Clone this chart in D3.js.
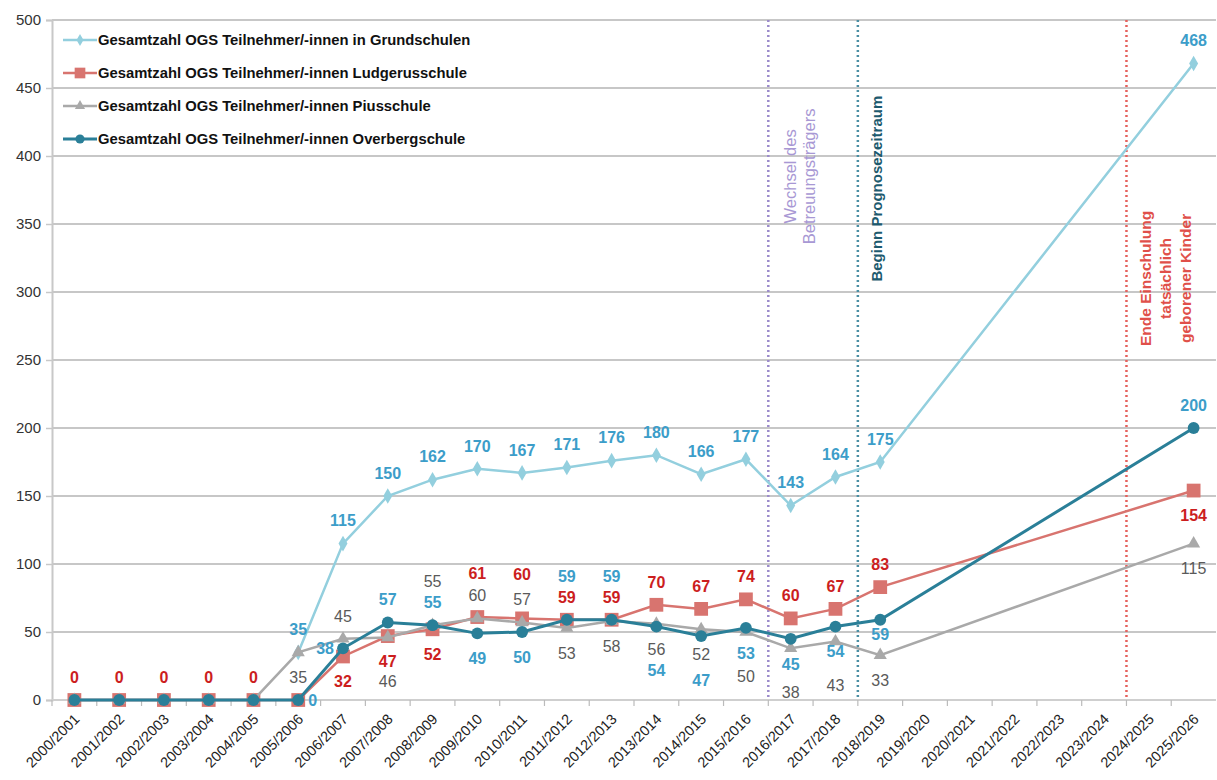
<!DOCTYPE html>
<html>
<head>
<meta charset="utf-8">
<script src="https://cdn.jsdelivr.net/npm/d3@7"></script>
<style>
    body { margin: 0; background: #fff; }
    #chart { width: 1217px; height: 780px; }
    text { font-family: "Liberation Sans", Arial, sans-serif; }
</style>
</head>
<body>
<div id="chart"></div>
<script>
// school years (x categories)
const years = ["2000/2001", "2001/2002", "2002/2003", "2003/2004", "2004/2005", "2005/2006",
    "2006/2007", "2007/2008", "2008/2009", "2009/2010", "2010/2011", "2011/2012", "2012/2013",
    "2013/2014", "2014/2015", "2015/2016", "2016/2017", "2017/2018", "2018/2019", "2019/2020",
    "2020/2021", "2021/2022", "2022/2023", "2023/2024", "2024/2025", "2025/2026"];

// values per series (null = no value, line is drawn across)
const grundschulen = [null, null, null, null, null, 35, 115, 150, 162, 170, 167, 171, 176, 180, 166, 177, 143, 164, 175, null, null, null, null, null, null, 468];
const ludgerus = [0, 0, 0, 0, 0, 0, 32, 47, 52, 61, 60, 59, 59, 70, 67, 74, 60, 67, 83, null, null, null, null, null, null, 154];
const pius = [0, 0, 0, 0, 0, 35, 45, 46, 55, 60, 57, 53, 58, 56, 52, 50, 38, 43, 33, null, null, null, null, null, null, 115];
const overberg = [0, 0, 0, 0, 0, 0, 38, 57, 55, 49, 50, 59, 59, 54, 47, 53, 45, 54, 59, null, null, null, null, null, null, 200];

// where the value label sits: a/A above, b/B below, s just below, l/r left/right, "" none
const grundLabelPos = ["", "", "", "", "", "a", "a", "a", "a", "a", "a", "a", "a", "a", "a", "a", "a", "a", "a", "", "", "", "", "", "", "a"];
const ludLabelPos = ["a", "a", "a", "a", "a", "", "b", "b", "b", "A", "A", "a", "a", "a", "a", "a", "a", "a", "a", "", "", "", "", "", "", "b"];
const piusLabelPos = ["", "", "", "", "", "b", "a", "B", "A", "a", "a", "b", "b", "b", "b", "B", "B", "B", "b", "", "", "", "", "", "", "b"];
const overLabelPos = ["", "", "", "", "", "r", "l", "a", "a", "b", "b", "A", "A", "B", "B", "b", "b", "b", "s", "", "", "", "", "", "", "a"];

const yTicks = [0, 50, 100, 150, 200, 250, 300, 350, 400, 450, 500];

const seriesNames = [
    "Gesamtzahl OGS Teilnehmer/-innen in Grundschulen",
    "Gesamtzahl OGS Teilnehmer/-innen Ludgerusschule",
    "Gesamtzahl OGS Teilnehmer/-innen Piusschule",
    "Gesamtzahl OGS Teilnehmer/-innen Overbergschule"
];

// vertical markers: line sits on the left edge of the given year
const markerYears = ["2016/2017", "2018/2019", "2024/2025"];

class LineVis {
    constructor(parentElement) {
        this.parentElement = parentElement;
        this.initVis();
    }

    initVis() {
        let vis = this;

        vis.margin = { top: 20, right: 1, bottom: 80, left: 52 };
        vis.width = 1217 - vis.margin.left - vis.margin.right;
        vis.height = 780 - vis.margin.top - vis.margin.bottom;

        vis.svg = d3.select(`#${vis.parentElement}`).append("svg")
            .attr("width", 1217)
            .attr("height", 780)
            .append("g")
            .attr("transform", `translate(${vis.margin.left}, ${vis.margin.top})`);

        vis.wrangleData();
    }

    wrangleData() {
        let vis = this;

        const style = [
            { line: "#93cfde", label: "#3c9dc9", symbol: d3.symbolDiamond, size: 70, bold: true, width: 2.5 },
            { line: "#d8746f", label: "#cc1e1e", symbol: d3.symbolSquare, size: 190, bold: true, width: 2.5 },
            { line: "#a9a9a9", label: "#5a5a5a", symbol: d3.symbolTriangle, size: 75, bold: false, width: 2.5 },
            { line: "#2a7f98", label: "#3c9dc9", symbol: d3.symbolCircle, size: 110, bold: true, width: 3 }
        ];
        const values = [grundschulen, ludgerus, pius, overberg];
        const pos = [grundLabelPos, ludLabelPos, piusLabelPos, overLabelPos];

        vis.series = values.map((vals, i) => ({
            name: seriesNames[i],
            style: style[i],
            points: years.map((y, j) => ({ year: y, value: vals[j], pos: pos[i][j] }))
                .filter(d => d.value !== null)
        }));

        vis.drawVis();
    }

    drawVis() {
        let vis = this;

        const x = d3.scaleBand()
            .domain(years)
            .range([0, vis.width])
            .padding(0);

        const y = d3.scaleLinear()
            .domain([0, 500])
            .range([vis.height, 0]);

        const cx = d => x(d) + x.bandwidth() / 2;

        // grid lines
        vis.svg.append("g")
            .selectAll("line")
            .data(yTicks.filter(t => t > 0))
            .enter()
            .append("line")
            .attr("x1", 0)
            .attr("x2", vis.width)
            .attr("y1", d => y(d))
            .attr("y2", d => y(d))
            .attr("stroke", "#b4b4b4")
            .attr("stroke-width", 1.5);

        // y axis
        const yAxis = vis.svg.append("g")
            .call(d3.axisLeft(y).tickValues(yTicks).tickSize(6).tickPadding(5));
        yAxis.select(".domain").attr("stroke", "#c8c8c8").attr("stroke-width", 2);
        yAxis.selectAll(".tick line").attr("stroke", "#c8c8c8").attr("stroke-width", 1.5);
        yAxis.selectAll("text")
            .attr("fill", "#333")
            .style("font-size", "15px")
            .style("font-family", "'Liberation Sans', Arial, sans-serif");

        // x axis: ticks between categories
        const xAxisG = vis.svg.append("g")
            .attr("transform", `translate(0,${vis.height})`);
        xAxisG.append("line")
            .attr("x1", 0).attr("x2", vis.width)
            .attr("stroke", "#cfcfcf").attr("stroke-width", 2);
        xAxisG.selectAll(".tk")
            .data(years)
            .enter()
            .append("line")
            .attr("x1", d => x(d)).attr("x2", d => x(d))
            .attr("y1", 0).attr("y2", 6)
            .attr("stroke", "#bbb").attr("stroke-width", 1.2);
        xAxisG.selectAll(".xl")
            .data(years)
            .enter()
            .append("text")
            .attr("transform", d => `translate(${cx(d) + 6},${20}) rotate(-45)`)
            .attr("text-anchor", "end")
            .attr("fill", "#222")
            .style("font-size", "14.5px")
            .text(d => d);

        // vertical dotted lines
        const vColors = ["#9b8bcb", "#4b8ea3", "#e5625e"];
        vis.svg.selectAll(".vline")
            .data(markerYears)
            .enter()
            .append("line")
            .attr("x1", d => x(d)).attr("x2", d => x(d))
            .attr("y1", 0).attr("y2", vis.height)
            .attr("stroke", (d, i) => vColors[i])
            .attr("stroke-width", 2.5)
            .attr("stroke-dasharray", "2,3");

        // texts at the vertical lines
        const vText = (xPos, yVal, lines, color, weight, size, step) => {
            lines.forEach((t, k) => {
                vis.svg.append("text")
                    .attr("transform", `translate(${xPos + k * step},${y(yVal)}) rotate(-90)`)
                    .attr("text-anchor", "middle")
                    .attr("fill", color)
                    .style("font-size", size)
                    .style("font-weight", weight)
                    .text(t);
            });
        };
        vText(x(markerYears[0]) + 28, 385, ["Wechsel des", "Betreuungsträgers"], "#a898d4", "normal", "16.5px", 19);
        vText(x(markerYears[1]) + 24, 376, ["Beginn Prognosezeitraum"], "#1d5a6e", "bold", "15px", 19);
        vText(x(markerYears[2]) + 25, 310, ["Ende Einschulung", "tatsächlich", "geborener Kinder"], "#e0504a", "bold", "15.5px", 20);

        // lines and markers
        const line = d3.line()
            .x(d => cx(d.year))
            .y(d => y(d.value));

        vis.series.forEach(s => {
            vis.svg.append("path")
                .datum(s.points)
                .attr("fill", "none")
                .attr("stroke", s.style.line)
                .attr("stroke-width", s.style.width)
                .attr("d", line);

            vis.svg.selectAll(null)
                .data(s.points)
                .enter()
                .append("path")
                .attr("transform", d => `translate(${cx(d.year)},${y(d.value)})`)
                .attr("d", d3.symbol().type(s.style.symbol).size(s.style.size))
                .attr("fill", s.style.line);
        });

        // value labels
        const dy = { a: -23, A: -44, b: 25, B: 44, s: 14, l: 0, r: 0 };
        const dx = { a: 0, A: 0, b: 0, B: 0, s: 0, l: -9, r: 10 };
        const anchor = { a: "middle", A: "middle", b: "middle", B: "middle", s: "middle", l: "end", r: "start" };
        vis.series.forEach(s => {
            vis.svg.selectAll(null)
                .data(s.points.filter(d => d.pos !== ""))
                .enter()
                .append("text")
                .attr("x", d => cx(d.year) + dx[d.pos])
                .attr("y", d => y(d.value) + dy[d.pos])
                .attr("dy", "0.36em")
                .attr("text-anchor", d => anchor[d.pos])
                .attr("fill", s.style.label)
                .style("font-family", "'Liberation Sans Narrow', 'Arial Narrow', 'Liberation Sans', Arial, sans-serif")
                .style("font-size", "16px")
                .style("font-weight", s.style.bold ? "bold" : "normal")
                .text(d => d.value);
        });

        // legend
        const legend = vis.svg.append("g")
            .attr("transform", "translate(11, 20)");
        vis.series.forEach((s, i) => {
            const g = legend.append("g").attr("transform", `translate(0, ${i * 33})`);
            g.append("line")
                .attr("x1", 0).attr("x2", 34)
                .attr("stroke", s.style.line)
                .attr("stroke-width", s.style.width);
            g.append("path")
                .attr("transform", "translate(17,0)")
                .attr("d", d3.symbol().type(s.style.symbol).size(s.style.size * 0.6))
                .attr("fill", s.style.line);
            g.append("text")
                .attr("x", 35)
                .attr("dy", "0.36em")
                .attr("fill", "#111")
                .style("font-size", "14.8px")
                .style("font-weight", "bold")
                .text(s.name);
        });
    }
}

new LineVis("chart");
</script>
</body>
</html>
